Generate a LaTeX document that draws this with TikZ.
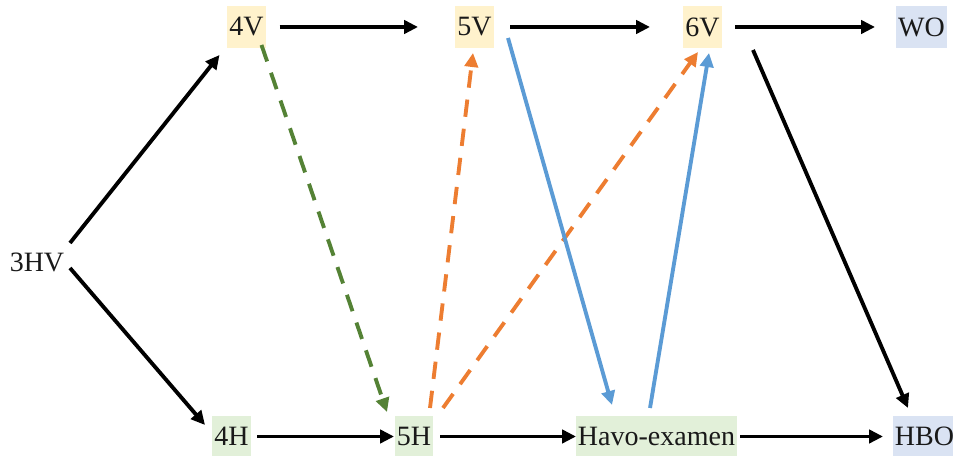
\documentclass[tikz,border=0pt]{standalone}
\usepackage{fontspec}
\setmainfont{Liberation Serif}
\usepackage{tikz}
\usetikzlibrary{arrows.meta}
\definecolor{vwo}{HTML}{FFF2CC}
\definecolor{havo}{HTML}{E2F0D9}
\definecolor{next}{HTML}{DAE3F3}
\definecolor{down}{HTML}{548235}
\definecolor{up}{HTML}{ED7D31}
\definecolor{exam}{HTML}{5B9BD5}
\tikzset{level/.style={inner xsep=1.5pt,inner ysep=0pt,minimum height=31pt,
  font=\fontsize{21}{24}\selectfont,text=black!90},
  vbox/.style={level,fill=vwo},
  hbox/.style={level,fill=havo},
  obox/.style={level,fill=next},
  arrow/.style={-{Triangle[length=10.5pt,width=10pt]},line width=2.9pt,draw=black},
  dashline/.style={arrow,dash pattern=on 13pt off 9pt}}

\begin{document}
\begin{tikzpicture}[x=0.75pt,y=0.75pt]
\useasboundingbox (0,0) rectangle (953,456);
\node[level] (hv3) at (37,194) {3HV};
\node[vbox] (v4) at (246.5,429) {4V};
\node[vbox] (v5) at (474.5,429) {5V};
\node[vbox] (v6) at (702.5,429) {6V};
\node[obox] (wo) at (921.5,429) {WO};
\node[hbox] (h4) at (231.5,19.5) {4H};
\node[hbox] (h5) at (414,19.5) {5H};
\node[hbox] (havo) at (656.5,19.5) {Havo-examen};
\node[obox] (hbo) at (924.5,19.5) {HBO};
\draw[arrow] ([shift={(33,19)}]hv3.center) -- ([shift={(-27,-28)}]v4.center);
\draw[arrow] ([shift={(33,-6)}]hv3.center) -- ([shift={(-26.5,11.5)}]h4.center);
\draw[arrow] ([shift={(33,0)}]v4.center) -- ([shift={(-56.5,0)}]v5.center);
\draw[arrow] ([shift={(35.5,0)}]v5.center) -- ([shift={(-52.5,0)}]v6.center);
\draw[arrow] ([shift={(32.5,0)}]v6.center) -- ([shift={(-46.5,0)}]wo.center);
\draw[arrow] ([shift={(25.5,0)}]h4.center) -- ([shift={(-20,0)}]h5.center);
\draw[arrow] ([shift={(26,0)}]h5.center) -- ([shift={(-80.5,0)}]havo.center);
\draw[arrow] ([shift={(83.5,0)}]havo.center) -- ([shift={(-41.5,0)}]hbo.center);
\draw[dashline,draw=down] ([shift={(15,-18)}]v4.center) -- ([shift={(-27,24.5)}]h5.center);
\draw[dashline,draw=up] ([shift={(16,28.5)}]h5.center) -- ([shift={(-1.5,-26)}]v5.center);
\draw[dashline,draw=up] ([shift={(29,28.5)}]h5.center) -- ([shift={(-4.5,-25)}]v6.center);
\draw[arrow,draw=exam] ([shift={(33.5,-11)}]v5.center) -- ([shift={(-44.5,31.5)}]havo.center);
\draw[arrow,draw=exam] ([shift={(-6.5,28.5)}]havo.center) -- ([shift={(6.5,-26)}]v6.center);
\draw[arrow] ([shift={(50.5,-23)}]v6.center) -- ([shift={(-16.5,28.5)}]hbo.center);
\end{tikzpicture}
\end{document}
